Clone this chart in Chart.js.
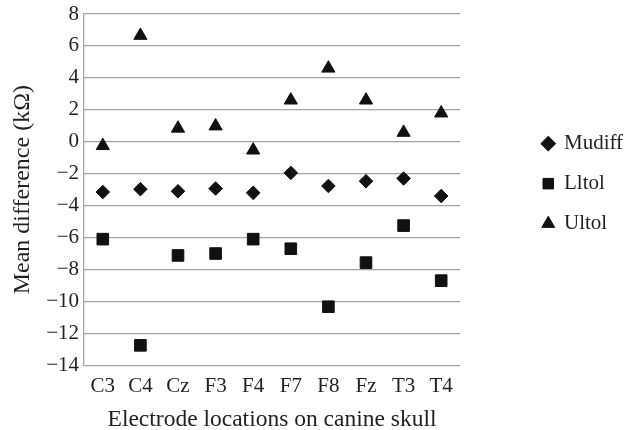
<!DOCTYPE html>
<html>
<head>
<meta charset="utf-8">
<script src="https://cdn.jsdelivr.net/npm/chart.js@4"></script>
<style>
  html, body { margin: 0; padding: 0; background: #fff; }
  #wrap { width: 624px; height: 430px; }
</style>
</head>
<body>
<div id="wrap"><canvas id="chart" width="624" height="430"></canvas></div>
<script>
// Electrode locations (x categories)
const categories = ['C3', 'C4', 'Cz', 'F3', 'F4', 'F7', 'F8', 'Fz', 'T3', 'T4'];

// Series values (kΩ)
const mudiff = [-3.15, -2.97, -3.1, -2.93, -3.2, -1.95, -2.77, -2.47, -2.3, -3.4];
const lltol = [-6.1, -12.75, -7.12, -7.0, -6.1, -6.7, -10.33, -7.57, -5.25, -8.7];
const ultol = [-0.25, 6.65, 0.84, 0.98, -0.53, 2.6, 4.6, 2.6, 0.58, 1.79];

// y tick labels
const yTicks = [8, 6, 4, 2, 0, -2, -4, -6, -8, -10, -12, -14];

const FONT = "'Liberation Serif', 'Times New Roman', serif";
const INK = '#231f20';
const GRID = '#a3a3a3';

// nudge the legend block after layout (it sits a bit higher in the original)
const legendNudge = {
  id: 'legendNudge',
  afterLayout(chart, args, opts) {
    const lg = chart.legend;
    if (!lg) return;
    lg.left += opts.dx; lg.right += opts.dx;
    lg.top += opts.dy; lg.bottom += opts.dy;
  }
};

document.addEventListener('DOMContentLoaded', function() {
  const ctx = document.getElementById('chart').getContext('2d');

  new Chart(ctx, {
    type: 'line',
    data: {
      labels: categories,
      datasets: [
        { label: 'Mudiff', data: mudiff, pointStyle: 'rectRot', pointRadius: 6.8 },
        { label: 'Lltol', data: lltol, pointStyle: 'rect', pointRadius: 8.2 },
        { label: 'Ultol', data: ultol, pointStyle: 'triangle', pointRadius: 7.6 }
      ].map(ds => Object.assign(ds, {
        showLine: false,
        backgroundColor: '#111',
        borderColor: '#111',
        borderWidth: 1,
        pointBackgroundColor: '#111',
        pointBorderColor: '#111',
        pointHoverRadius: ds.pointRadius
      }))
    },
    plugins: [legendNudge],
    options: {
      responsive: false,
      animation: false,
      layout: { padding: { left: 0, right: 0, top: 14, bottom: -2 } },
      scales: {
        x: {
          offset: true,
          grid: { display: false, drawTicks: false },
          border: { display: false },
          ticks: { color: INK, padding: 9, font: { family: FONT, size: 21 } },
          title: {
            display: true,
            text: 'Electrode locations on canine skull',
            color: INK,
            padding: { top: 0, bottom: 0 },
            font: { family: FONT, size: 23.5, lineHeight: 1 }
          }
        },
        y: {
          min: -14,
          max: 8,
          afterBuildTicks: s => { s.ticks = yTicks.map(v => ({ value: v })); },
          afterFit: s => { s.width = 84; s.paddingTop = 0; },
          grid: { color: GRID, lineWidth: 1.3, drawTicks: false },
          border: { display: true, color: GRID, width: 1.3 },
          ticks: {
            color: INK,
            padding: 5,
            font: { family: FONT, size: 21 },
            callback: v => String(v).replace('-', '\u2212')
          },
          title: {
            display: true,
            text: 'Mean difference (k\u03A9)',
            color: INK,
            padding: { top: 8, bottom: 0 },
            font: { family: FONT, size: 24, lineHeight: 1.2 }
          }
        },
        // empty spacer axis between plot and legend
        gap: {
          type: 'linear',
          position: 'right',
          grid: { display: false },
          border: { display: false },
          ticks: { display: false },
          afterFit: s => { s.width = 60; }
        }
      },
      plugins: {
        tooltip: { enabled: false },
        legendNudge: { dx: 4, dy: -6 },
        legend: {
          position: 'right',
          fullSize: false,
          align: 'center',
          labels: {
            usePointStyle: true,
            boxWidth: 10.5,
            boxHeight: 10.5,
            padding: 19,
            color: INK,
            font: { family: FONT, size: 21 }
          }
        }
      }
    }
  });
});
</script>
</body>
</html>
